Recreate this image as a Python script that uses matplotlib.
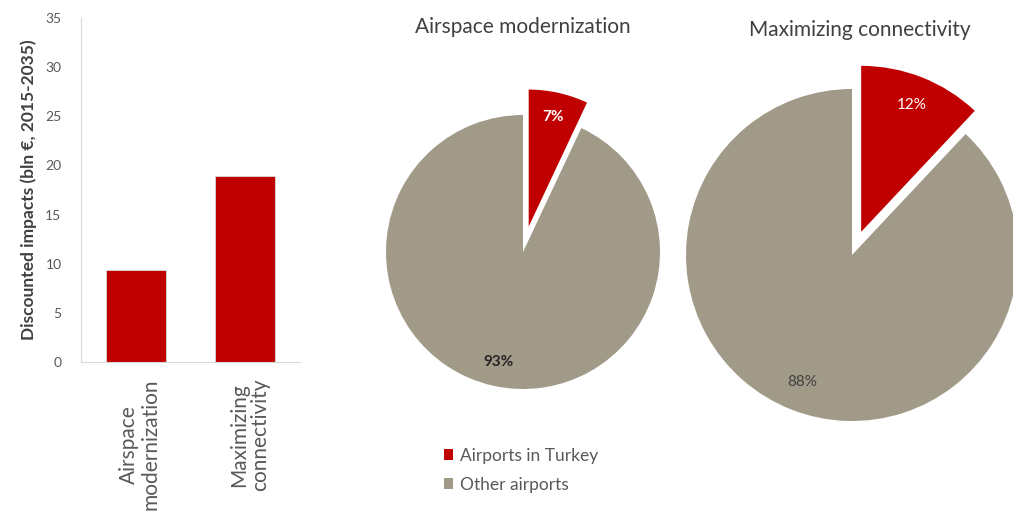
import matplotlib.pyplot as plt
from matplotlib.patches import Patch

plt.rcParams['font.family'] = ['Lato', 'DejaVu Sans']

# data
scenarios = ['Airspace\nmodernization', 'Maximizing\nconnectivity']
impacts = [9.4, 18.9]
pie_titles = ['Airspace modernization', 'Maximizing connectivity']
share_turkey = [7, 12]
share_other = [93, 88]
legend_labels = ['Airports in Turkey', 'Other airports']

RED = '#C00000'
GRAY = '#A19A88'
TXT = '#595959'

W, H = 1013, 515
fig = plt.figure(figsize=(W / 100, H / 100), dpi=100)


def px_axes(left, top, width, height):
    return fig.add_axes([left / W, (H - top - height) / H, width / W, height / H])


# bar chart
ax = px_axes(81, 18, 219, 344)
ax.bar(range(len(impacts)), impacts, width=0.55, color=RED, edgecolor='#D9D9D9', linewidth=0.6)
ax.set_xlim(-0.5, 1.5)
ax.set_ylim(0, 35)
ax.set_yticks(range(0, 36, 5))
ax.set_xticks([x + 0.04 for x in range(len(scenarios))])
ax.set_xticklabels(scenarios, rotation=90, fontsize=15, color=TXT, ha='center',
                   multialignment='center', linespacing=1.1)
ax.tick_params(axis='both', length=0, colors=TXT)
ax.tick_params(axis='y', labelsize=10, pad=14)
ax.tick_params(axis='x', pad=12)
for s in ['top', 'right']:
    ax.spines[s].set_visible(False)
for s in ['left', 'bottom']:
    ax.spines[s].set_color('#D9D9D9')
ax.set_ylabel('Discounted impacts (bln €, 2015-2035)', fontsize=12.5, fontweight='bold',
              color='#404040', labelpad=6)

# pies: (center x, center y, radius, explode) in pixels
pie_geom = [(523, 252, 137, 0.19), (852, 255, 166, 0.15)]
for i, (cx, cy, r, ex) in enumerate(pie_geom):
    S = 200
    pax = px_axes(cx - S, cy - S, 2 * S, 2 * S)
    wedges, texts, autotexts = pax.pie(
        [share_turkey[i], share_other[i]], colors=[RED, GRAY], startangle=90, counterclock=False,
        explode=[ex, 0], autopct='%d%%', pctdistance=0.82,
        wedgeprops=dict(linewidth=0))
    autotexts[0].set_color('white')
    autotexts[1].set_color('#262626' if i == 0 else '#404040')
    for t in autotexts:
        t.set_fontsize(11)
        t.set_fontweight('bold' if i == 0 else 'normal')
    lim = S / r
    pax.set_xlim(-lim, lim)
    pax.set_ylim(-lim, lim)
    pax.axis('off')

fig.text(523 / W, 1 - 27 / H, pie_titles[0], ha='center', va='center', fontsize=15, color='#404040')
fig.text(860 / W, 1 - 30 / H, pie_titles[1], ha='center', va='center', fontsize=15, color='#404040')

handles = [Patch(facecolor=RED), Patch(facecolor=GRAY)]
fig.legend(handles, legend_labels, loc='upper left', bbox_to_anchor=(428 / W, 1 - 432 / H),
           frameon=False, fontsize=12.5, handlelength=0.55, handleheight=0.55, handletextpad=0.4,
           labelspacing=0.75, labelcolor=TXT)

fig.savefig('out.png', dpi=100)
